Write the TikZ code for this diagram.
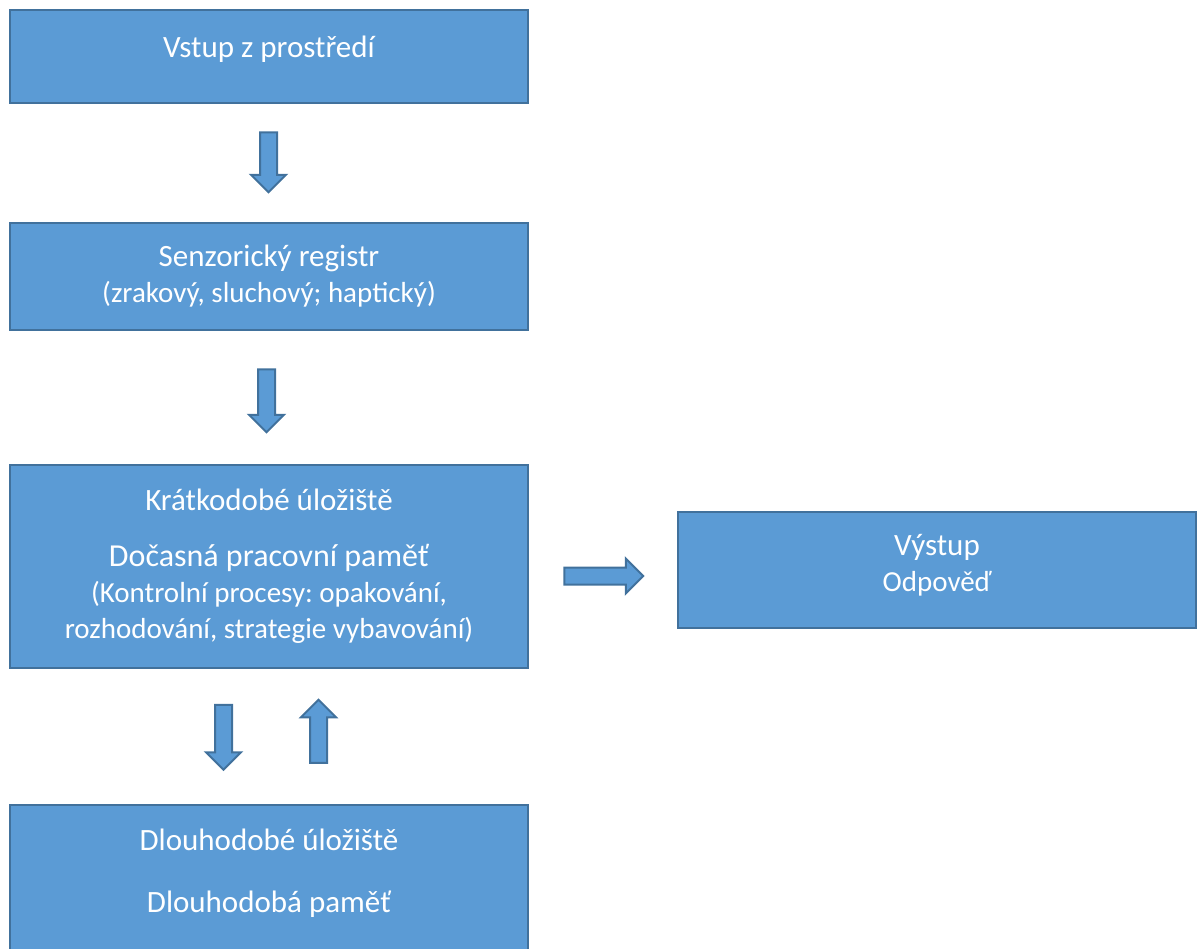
\documentclass[tikz,border=0pt]{standalone}
\usepackage{fontspec}
\setmainfont{Carlito}
\usepackage{tikz}
\usetikzlibrary{calc,shapes.arrows}
\definecolor{boxfill}{HTML}{5B9BD5}
\definecolor{boxborder}{HTML}{41719C}
\newcommand{\mainsize}{\fontsize{15.5}{18}\selectfont}
\newcommand{\bigsize}{\fontsize{16}{19}\selectfont}
\newcommand{\subsize}{\fontsize{14.5}{17}\selectfont}
\frenchspacing

\begin{document}
\begin{tikzpicture}[x=0.5pt, y=-0.5pt,
  block/.style={draw=boxborder, fill=boxfill, line width=1pt, minimum width=259pt, inner sep=0pt, align=center, text=white, font=\mainsize},
  barrow/.style={single arrow, draw=boxborder, fill=boxfill, line width=1pt, minimum width=17pt, single arrow head extend=4.5pt, inner xsep=0pt, inner ysep=3.75pt, text height=0pt, text depth=0pt},
]
  \clip (0,0) rectangle (1197,948);

  \node[block, minimum height=46.5pt, text depth=10pt] (env) at (269,56.5) {Vstup z prostředí};
  \node[block, minimum height=53.5pt] (sens) at (269,276.5) {Senzorický registr\\[0pt]{\subsize (zrakový, sluchový; haptický)}};
  \node[block, minimum height=101.5pt] (stm) at (269,566.5) {Krátkodobé úložiště\\[10pt]{\bigsize Dočasná pracovní paměť}\\{\subsize (Kontrolní procesy: opakování,}\\{\subsize rozhodování, strategie vybavování)}};
  \node[block, minimum height=58pt, text depth=7pt] (out) at (937,570) {Výstup\\[0pt]{\subsize Odpověď}};
  \node[block, minimum height=90pt, text depth=24pt] (ltm) at (269,895) {Dlouhodobé úložiště\\[13pt]Dlouhodobá paměť};

  \node[barrow, rotate=-90, minimum height=30pt] (a1) at ($(env.south)!0.5!(sens.north)+(-0.5,-5)$) {};
  \node[barrow, rotate=-90, minimum height=31.5pt] (a2) at ($(sens.south)!0.5!(stm.north)+(-2.5,-1)$) {};
  \node[barrow, minimum height=39.5pt] (a3) at ($(stm.east)!0.5!(out.west)+(-3.5,7.75)$) {};
  \node[barrow, rotate=-90, minimum height=32.5pt] (a4) at ($(stm.south)!0.5!(ltm.north)+(-45.5,-3.5)$) {};
  \node[barrow, rotate=90, minimum height=31.5pt] (a5) at ($(stm.south)!0.5!(ltm.north)+(49.5,-1)$) {};
\end{tikzpicture}
\end{document}
